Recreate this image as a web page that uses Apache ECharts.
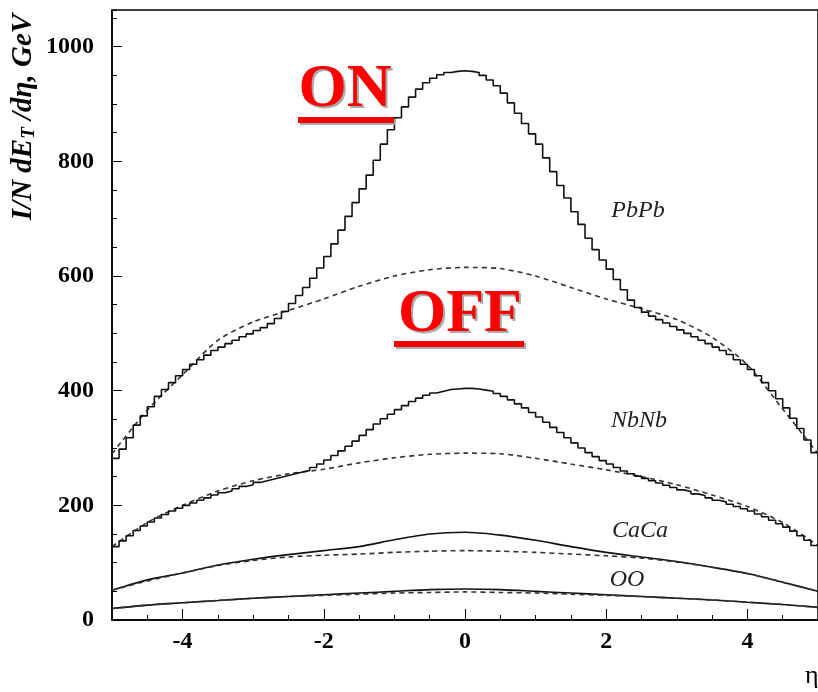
<!DOCTYPE html>
<html>
<head>
<meta charset="utf-8">
<script src="https://cdn.jsdelivr.net/npm/echarts@6/dist/echarts.min.js"></script>
<style>
  html, body { margin: 0; padding: 0; background: #fff; }
  #chart { width: 818px; height: 692px; }
</style>
</head>
<body>
<div id="chart"></div>
<script>
// histogram bins (ON, solid): 100 bins of 0.1 in eta from -5 to 5
var binLo = -5;
var binW = 0.1;
var pbpbOn = [
  282, 298, 318, 340, 356, 372, 390, 402, 414, 426,
  437, 446, 454, 462, 470, 476, 482, 488, 494, 499,
  505, 510, 517, 526, 538, 552, 566, 580, 596, 614,
  634, 656, 680, 704, 728, 752, 776, 802, 830, 855,
  876, 895, 912, 926, 937, 945, 951, 955, 957, 958,
  957, 955, 950, 942, 932, 919, 902, 884, 866, 848,
  830, 806, 782, 758, 736, 712, 690, 666, 646, 628,
  612, 594, 576, 558, 545, 537, 530, 524, 518, 512,
  506, 500, 494, 488, 482, 476, 470, 463, 454, 446,
  437, 426, 414, 400, 386, 370, 352, 334, 314, 292
];
var nbnbOn = [
  128, 138, 147, 156, 164, 171, 178, 184, 190, 195,
  200, 204, 209, 213, 218, 222, 225, 229, 233, 236,
  240, 243, 246, 249, 252, 255, 258, 261, 266, 272,
  279, 287, 295, 303, 312, 322, 332, 342, 351, 359,
  367, 374, 381, 387, 392, 396, 399, 402, 403, 404,
  404, 403, 401, 399, 395, 390, 384, 377, 370, 362,
  354, 345, 336, 327, 318, 309, 300, 292, 285, 278,
  272, 266, 260, 255, 251, 247, 243, 239, 235, 231,
  227, 224, 220, 217, 213, 209, 206, 202, 198, 194,
  190, 185, 180, 174, 168, 162, 155, 147, 139, 130
];

// smooth curves, read every 0.5 in eta
var eta = [-5, -4.5, -4, -3.5, -3, -2.5, -2, -1.5, -1, -0.5, 0, 0.5, 1, 1.5, 2, 2.5, 3, 3.5, 4, 4.5, 5];
var pbpbOff = [290, 366, 428, 488, 520, 540, 560, 582, 600, 611, 615, 613, 600, 580, 560, 543, 524, 493, 445, 368, 290];
var nbnbOff = [128, 170, 200, 225, 243, 255, 263, 274, 283, 289, 291, 290, 282, 272, 262, 250, 236, 218, 198, 170, 130];
var cacaOn  = [52, 70, 82, 96, 106, 114, 121, 128, 140, 150, 153, 148, 139, 128, 118, 110, 102, 92, 81, 66, 50];
var cacaOff = [52, 68, 82, 95, 104, 110, 113, 115, 118, 120, 121, 120, 118, 115, 112, 108, 101, 92, 81, 66, 50];
var ooOn    = [20, 26, 30, 34, 38, 41, 44, 47, 50, 53, 54, 53, 50, 47, 44, 41, 38, 35, 31, 27, 22];
var ooOff   = [20, 26, 30, 34, 38, 41, 43, 45, 47, 48, 49, 48, 47, 45, 43, 41, 38, 35, 31, 27, 22];

var xMajor = [-4, -2, 0, 2, 4];
var yMajor = [0, 200, 400, 600, 800, 1000];

function histPoints(vals) {
  var pts = vals.map(function (v, i) {
    return [+(binLo + i * binW).toFixed(2), v];
  });
  pts.push([+(binLo + vals.length * binW).toFixed(2), vals[vals.length - 1]]);
  return pts;
}
function curvePoints(vals) {
  return vals.map(function (v, i) { return [eta[i], v]; });
}

var serif = '"Liberation Serif", "DejaVu Serif", serif';

var solid = { color: '#111', width: 1.6 };
var dashed = { color: '#333', width: 1.6, type: [5, 4] };

function histSeries(vals) {
  return { type: 'line', data: histPoints(vals), step: 'end', symbol: 'none', lineStyle: solid, z: 3 };
}
function curveSeries(vals, style) {
  return { type: 'line', data: curvePoints(vals), smooth: 0.25, symbol: 'none', lineStyle: style, z: 2 };
}
function plain(v) { return String(v); }

var chart = echarts.init(document.getElementById('chart'));
var option = {
  animation: false,
  backgroundColor: '#fff',
  grid: { left: 112, right: -5, top: 10, bottom: 72, show: true, borderColor: '#000', borderWidth: 1.5 },
  xAxis: [
    {
      type: 'value', min: -5, max: 5, interval: 0.5,
      axisLine: { onZero: false, lineStyle: { color: '#000', width: 1.5 } },
      axisTick: { inside: true, length: 5, lineStyle: { color: '#000' } },
      axisLabel: { customValues: xMajor, formatter: plain, color: '#000', fontFamily: serif, fontWeight: 'bold', fontSize: 24, margin: 10 },
      splitLine: { show: false }
    },
    {
      type: 'value', min: -5, max: 5, position: 'bottom',
      axisLine: { show: false, onZero: false },
      axisTick: { inside: true, length: 11, customValues: xMajor, lineStyle: { color: '#000' } },
      axisLabel: { show: false },
      splitLine: { show: false }
    }
  ],
  yAxis: [
    {
      type: 'value', min: 0, max: 1064, interval: 50, position: 'left',
      axisLine: { show: true, onZero: false, lineStyle: { color: '#000', width: 1.5 } },
      axisTick: { show: true, inside: true, length: 5, lineStyle: { color: '#000' } },
      axisLabel: { customValues: yMajor, formatter: plain, color: '#000', fontFamily: serif, fontWeight: 'bold', fontSize: 24, margin: 18 },
      splitLine: { show: false }
    },
    {
      type: 'value', min: 0, max: 1064, position: 'left',
      axisLine: { show: false, onZero: false },
      axisTick: { show: true, inside: true, length: 10, customValues: yMajor, lineStyle: { color: '#000' } },
      axisLabel: { show: false },
      splitLine: { show: false }
    }
  ],
  series: [
    histSeries(pbpbOn),
    curveSeries(pbpbOff, dashed),
    histSeries(nbnbOn),
    curveSeries(nbnbOff, dashed),
    curveSeries(cacaOn, solid),
    curveSeries(cacaOff, dashed),
    curveSeries(ooOn, solid),
    curveSeries(ooOff, dashed)
  ],
  graphic: [
    // y axis title
    {
      type: 'text', x: 24, y: 117, rotation: Math.PI / 2,
      style: {
        text: '{a|I/N dE}{s|T}{a| /dη, GeV}',
        align: 'center', verticalAlign: 'middle',
        rich: {
          a: { font: 'italic bold 29px ' + serif, fill: '#000' },
          s: { font: 'italic bold 19px ' + serif, fill: '#000', verticalAlign: 'bottom', padding: [10, 0, 0, 0] }
        }
      }
    },
    { type: 'text', x: 805, y: 676, style: { text: 'η', font: '26px ' + serif, fill: '#000', align: 'left', verticalAlign: 'middle' } },
    // system names
    { type: 'text', x: 638, y: 211, style: { text: 'PbPb', font: 'italic 24px ' + serif, fill: '#222', align: 'center', verticalAlign: 'middle' } },
    { type: 'text', x: 639, y: 421, style: { text: 'NbNb', font: 'italic 24px ' + serif, fill: '#222', align: 'center', verticalAlign: 'middle' } },
    { type: 'text', x: 640, y: 531, style: { text: 'CaCa', font: 'italic 24px ' + serif, fill: '#222', align: 'center', verticalAlign: 'middle' } },
    { type: 'text', x: 627, y: 580, style: { text: 'OO', font: 'italic 24px ' + serif, fill: '#222', align: 'center', verticalAlign: 'middle' } },
    // ON / OFF marks with shadow and underline
    { type: 'text', x: 347, y: 92, z: 10, style: { text: 'ON', font: 'bold 62px ' + serif, fill: '#aaa', align: 'center', verticalAlign: 'middle' } },
    { type: 'rect', z: 10, shape: { x: 300, y: 119, width: 96, height: 6 }, style: { fill: '#aaa' } },
    { type: 'text', x: 345, y: 90, z: 11, style: { text: 'ON', font: 'bold 62px ' + serif, fill: '#f00', align: 'center', verticalAlign: 'middle' } },
    { type: 'rect', z: 11, shape: { x: 298, y: 117, width: 96, height: 6 }, style: { fill: '#f00' } },
    { type: 'text', x: 462, y: 317, z: 10, style: { text: 'OFF', font: 'bold 62px ' + serif, fill: '#aaa', align: 'center', verticalAlign: 'middle' } },
    { type: 'rect', z: 10, shape: { x: 396, y: 343, width: 130, height: 6 }, style: { fill: '#aaa' } },
    { type: 'text', x: 460, y: 315, z: 11, style: { text: 'OFF', font: 'bold 62px ' + serif, fill: '#f00', align: 'center', verticalAlign: 'middle' } },
    { type: 'rect', z: 11, shape: { x: 394, y: 341, width: 130, height: 6 }, style: { fill: '#f00' } }
  ]
};
chart.setOption(option);
</script>
</body>
</html>
